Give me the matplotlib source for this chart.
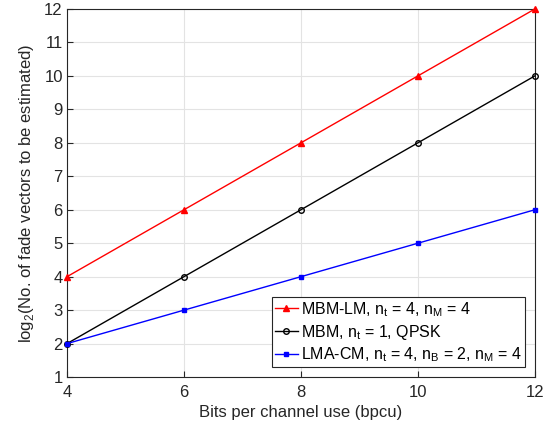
import numpy as np
import matplotlib.pyplot as plt

plt.rcParams['font.family'] = ['Liberation Sans', 'DejaVu Sans']
plt.rcParams['font.size'] = 12

bpcu = [4, 6, 8, 10, 12]
mbm_lm = [4, 6, 8, 10, 12]
mbm = [2, 4, 6, 8, 10]
lma_cm = [2, 3, 4, 5, 6]

fig = plt.figure(figsize=(5.43, 4.28), dpi=100)
ax = fig.add_axes([0.1234, 0.119, 0.8616, 0.86])

ax.plot(bpcu, mbm_lm, '-^', color='r', markersize=5, linewidth=1, clip_on=False, zorder=3,
        label=r'MBM-LM, n$_\mathregular{t}$ = 4, n$_\mathregular{M}$ = 4')
ax.plot(bpcu, mbm, '-o', color='k', markersize=4, markerfacecolor='none', linewidth=1,
        clip_on=False, zorder=3, label=r'MBM, n$_\mathregular{t}$ = 1, QPSK')
ax.plot(bpcu, lma_cm, '-s', color='b', markersize=3.5, linewidth=1, clip_on=False, zorder=3,
        label=r'LMA-CM, n$_\mathregular{t}$ = 4, n$_\mathregular{B}$ = 2, n$_\mathregular{M}$ = 4')

ax.set_xlim(4, 12)
ax.set_ylim(1, 12)
ax.set_xticks([4, 6, 8, 10, 12])
ax.set_yticks(range(1, 13))
ax.grid(True, color='#e3e3e3', linewidth=0.8)
ax.tick_params(direction='in', length=4, pad=3, colors='#262626', labelcolor='#262626')
ax.tick_params(axis='x', pad=6)
for s in ax.spines.values():
    s.set_color('#262626')
    s.set_linewidth(0.8)

ax.set_xlabel('Bits per channel use (bpcu)', color='#262626', labelpad=3)
ax.set_ylabel(r'log$_\mathregular{2}$(No. of fade vectors to be estimated)', color='#262626',
              labelpad=6)

leg = ax.legend(loc='lower right', fancybox=False, edgecolor='#262626', framealpha=1,
                fontsize=11.5, handlelength=1.4, handletextpad=0.2, borderpad=0.2,
                labelspacing=0.25, borderaxespad=0.6)
leg.get_frame().set_linewidth(0.8)

plt.savefig('out.png', dpi=100)
